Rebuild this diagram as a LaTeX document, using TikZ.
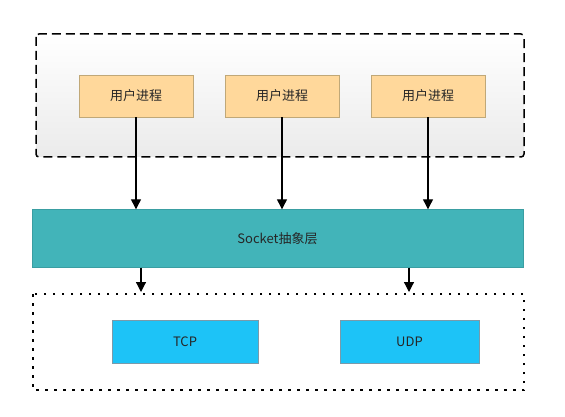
\documentclass[tikz,border=0pt]{standalone}
\usepackage{fontspec}
\setmainfont{Noto Sans CJK SC}
\usetikzlibrary{arrows.meta}
\definecolor{procfill}{HTML}{FFD89B}
\definecolor{procline}{HTML}{C0A878}
\definecolor{sockfill}{HTML}{42B4B9}
\definecolor{sockline}{HTML}{3A9EA2}
\definecolor{protofill}{HTML}{1DC3F7}
\definecolor{protoline}{HTML}{7A9AAA}

\begin{document}
\begin{tikzpicture}[x=1pt,y=-1pt,
	proc/.style={draw=procline, fill=procfill, minimum width=114pt, minimum height=42pt, inner sep=0pt, font=\fontsize{13}{15}\selectfont, text=black!85},
	proto/.style={draw=protoline, fill=protofill, minimum height=43pt, inner sep=0pt, font=\fontsize{13}{15}\selectfont, text=black!85},
	arr/.style={-{Triangle[width=10pt,length=10pt]}, line width=1.2pt}]
	\useasboundingbox (0,0) rectangle (565,417);
	% user space
	\draw[line width=1.5pt, dash pattern=on 9pt off 5pt, rounded corners=3pt, top color=white, bottom color=black!8] (36,34) rectangle (524,157);
	\node[proc] (p1) at (136,96) {用户进程};
	\node[proc] (p2) at (282,96) {用户进程};
	\node[proc] (p3) at (428,96) {用户进程};
	% socket layer
	\node[draw=sockline, fill=sockfill, minimum width=491pt, minimum height=58pt, inner sep=0pt, font=\fontsize{13}{15}\selectfont, text=black!85] (sock) at (277.5,238.5) {Socket抽象层};
	\draw[arr] (p1.south) -- (p1.south |- sock.north);
	\draw[arr] (p2.south) -- (p2.south |- sock.north);
	\draw[arr] (p3.south) -- (p3.south |- sock.north);
	% transport
	\draw[line width=1.3pt, dash pattern=on 2.5pt off 6.5pt] (33,294) rectangle (524,390);
	\node[proto, minimum width=146pt] (tcp) at (185,341.5) {TCP};
	\node[proto, minimum width=139pt] (udp) at (409.5,341.5) {UDP};
	\coordinate (d1) at (141,292);
	\coordinate (d2) at (409,292);
	\draw[arr] (sock.south -| d1) -- (d1);
	\draw[arr] (sock.south -| d2) -- (d2);
\end{tikzpicture}
\end{document}
